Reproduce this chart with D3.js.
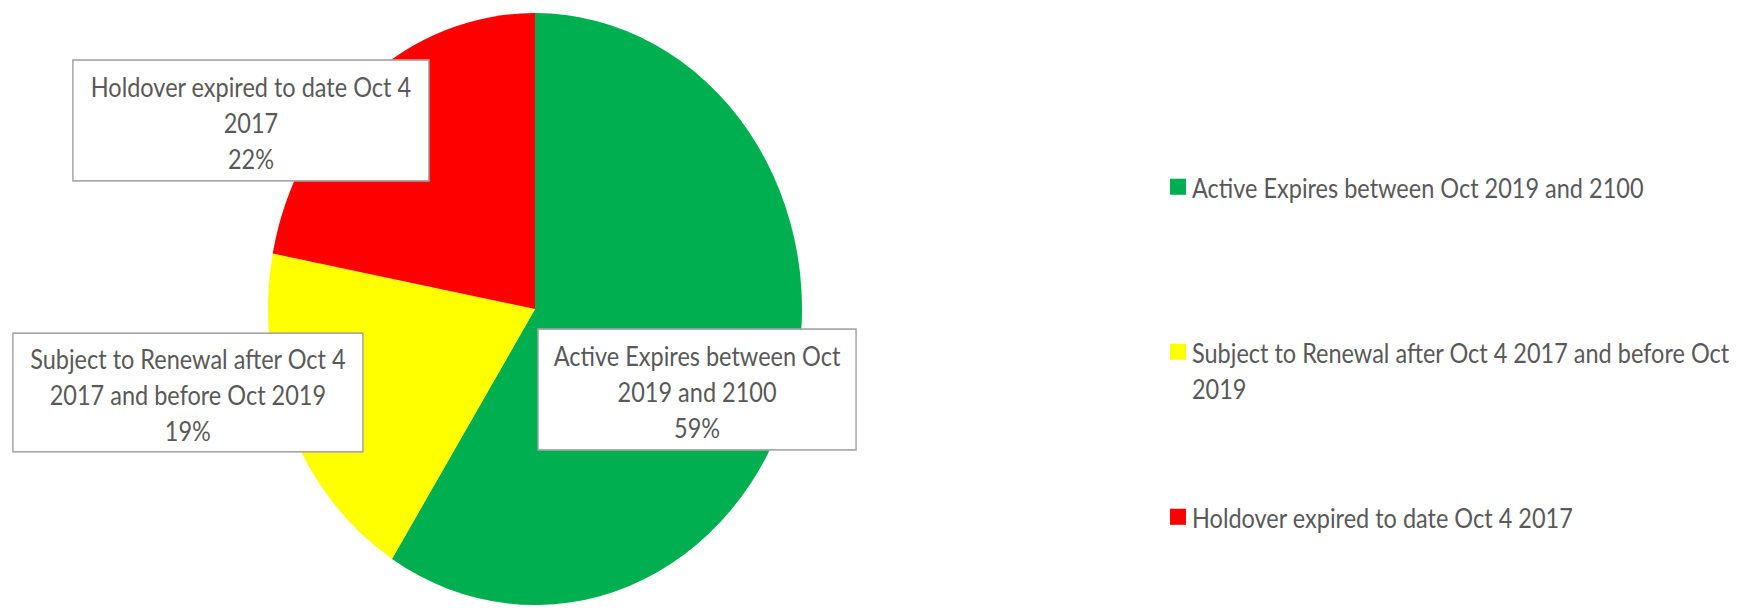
<!DOCTYPE html>
<html>
<head>
<meta charset="utf-8">
<script src="https://cdn.jsdelivr.net/npm/d3@7"></script>
<style>
  body { margin: 0; background: #fff; }
  svg { display: block; }
</style>
</head>
<body>
<div id="chart"></div>
<script>
// data
const categories = [
  "Active Expires between Oct 2019 and 2100",
  "Subject to Renewal after Oct 4 2017 and before Oct 2019",
  "Holdover expired to date Oct 4 2017"
];
const shares = [59, 19, 22];
// wrapped text as it shows in the labels / legend
const labelLines = [
  ["Active Expires between Oct", "2019 and 2100"],
  ["Subject to Renewal after Oct 4", "2017 and before Oct 2019"],
  ["Holdover expired to date Oct 4", "2017"]
];
const legendLines = [
  ["Active Expires between Oct 2019 and 2100"],
  ["Subject to Renewal after Oct 4 2017 and before Oct", "2019"],
  ["Holdover expired to date Oct 4 2017"]
];

// styles
const colors = ["#00b050", "#ffff00", "#ff0000"];
const textColor = "#595959";
const fontFamily = "Lato, 'Open Sans', sans-serif";
const fontSize = 23.5;

// layout (the original picture is stretched vertically)
const width = 1756, height = 608;
const sy = 296 / 267;
const cx = 535, cy = 309 / sy, radius = 267;
const lineGap = 32.5;
// label box centre offsets relative to the pie centre, in radius units, and box sizes
const labelBoxes = [
  {dx: 0.607, dy: 0.272, w: 318, h: 109},
  {dx: -1.300, dy: 0.282, w: 350, h: 107},
  {dx: -1.064, dy: -0.637, w: 356, h: 109}
];

const svg = d3.select("#chart").append("svg")
  .attr("width", width)
  .attr("height", height);

const root = svg.append("g")
  .attr("transform", `scale(1, ${sy})`);

const pie = d3.pie().sort(null).value(d => d);
const arcs = pie(shares);
const arc = d3.arc().innerRadius(0).outerRadius(radius);
const total = d3.sum(shares);
const pct = d3.format(".0%");

const pieG = root.append("g").attr("transform", `translate(${cx},${cy})`);
pieG.selectAll("path")
  .data(arcs)
  .join("path")
  .attr("d", arc)
  .attr("fill", (d, i) => colors[i]);

// DATA LABELS
arcs.forEach((a, i) => {
  const b = labelBoxes[i];
  const bx = cx + b.dx * radius;
  const by = cy + b.dy * radius;
  const g = root.append("g").attr("transform", `translate(${bx},${by})`);
  g.append("rect")
    .attr("x", -b.w / 2)
    .attr("y", -b.h / 2)
    .attr("width", b.w)
    .attr("height", b.h)
    .attr("fill", "#fff")
    .attr("stroke", "#a6a6a6")
    .attr("stroke-width", 1.5);
  const lines = labelLines[i].concat([pct(shares[i] / total)]);
  lines.forEach((t, j) => {
    g.append("text")
      .attr("x", 0)
      .attr("y", (j - (lines.length - 1) / 2) * lineGap + 2)
      .attr("text-anchor", "middle")
      .attr("dominant-baseline", "central")
      .attr("font-family", fontFamily)
      .attr("font-size", fontSize)
      .attr("fill", textColor)
      .text(t);
  });
});

// LEGEND
const legendY = d3.scalePoint()
  .domain(categories)
  .range([168.7, 466.4]);

categories.forEach((c, i) => {
  const y = legendY(c);
  root.append("rect")
    .attr("x", 1170)
    .attr("y", y - 7.5)
    .attr("width", 16)
    .attr("height", 14.5)
    .attr("fill", colors[i]);
  legendLines[i].forEach((t, j) => {
    root.append("text")
      .attr("x", 1192)
      .attr("y", y + j * lineGap + 1)
      .attr("dominant-baseline", "central")
      .attr("font-family", fontFamily)
      .attr("font-size", fontSize)
      .attr("fill", textColor)
      .text(t);
  });
});
</script>
</body>
</html>
